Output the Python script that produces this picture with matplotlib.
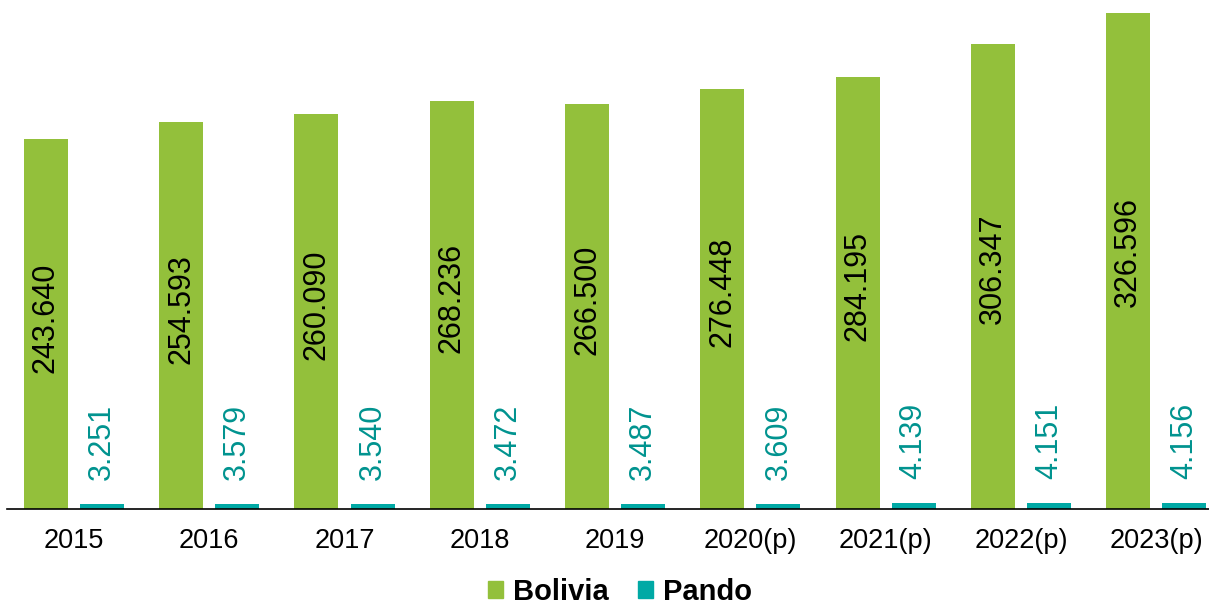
import matplotlib.pyplot as plt
import numpy as np
from matplotlib.patches import Patch

years = ["2015", "2016", "2017", "2018", "2019",
         "2020(p)", "2021(p)", "2022(p)", "2023(p)"]
bolivia = [243.640, 254.593, 260.090, 268.236, 266.500,
           276.448, 284.195, 306.347, 326.596]
pando = [3.251, 3.579, 3.540, 3.472, 3.487,
         3.609, 4.139, 4.151, 4.156]

green = "#93C03B"
teal = "#00A9A5"
teal_text = "#00938F"

plt.rcParams["font.family"] = ["Liberation Sans", "DejaVu Sans"]


def fmt(v):
    return f"{v:.3f}"


fig = plt.figure(figsize=(12.09, 6.05), dpi=100)
ax = fig.add_axes([0.0058, 0.1587, 0.9942, 0.8413])

x = np.arange(len(years))
w = 0.325
off = 0.415 / 2
ax.bar(x - off, bolivia, w, color=green)
ax.bar(x + off, pando, w, color=teal)

for xi, v in zip(x, bolivia):
    ax.text(xi - off, v * 0.517, fmt(v), rotation=90, ha="center", va="center",
            fontsize=22, color="black")
for xi, v in zip(x, pando):
    ax.text(xi + off, v + 15.5, fmt(v), rotation=90, ha="center", va="bottom",
            fontsize=22, color=teal_text)

ax.set_xlim(-0.495, 8.39)
ax.set_ylim(0, 335)
ax.set_xticks(x)
ax.set_xticklabels(years, fontsize=19.5)
ax.tick_params(axis="x", length=0, pad=14)
ax.set_yticks([])
for s in ["top", "right", "left"]:
    ax.spines[s].set_visible(False)
ax.spines["bottom"].set_linewidth(1.2)

handles = [Patch(color=green, label="Bolivia"), Patch(color=teal, label="Pando")]
fig.legend(handles=handles, loc="lower center", bbox_to_anchor=(0.513, -0.045),
           ncol=2, frameon=False, prop={"size": 21, "weight": "bold"},
           handlelength=0.5, handleheight=0.5, handletextpad=0.35,
           columnspacing=1.0)

fig.savefig("out.png", dpi=100)
